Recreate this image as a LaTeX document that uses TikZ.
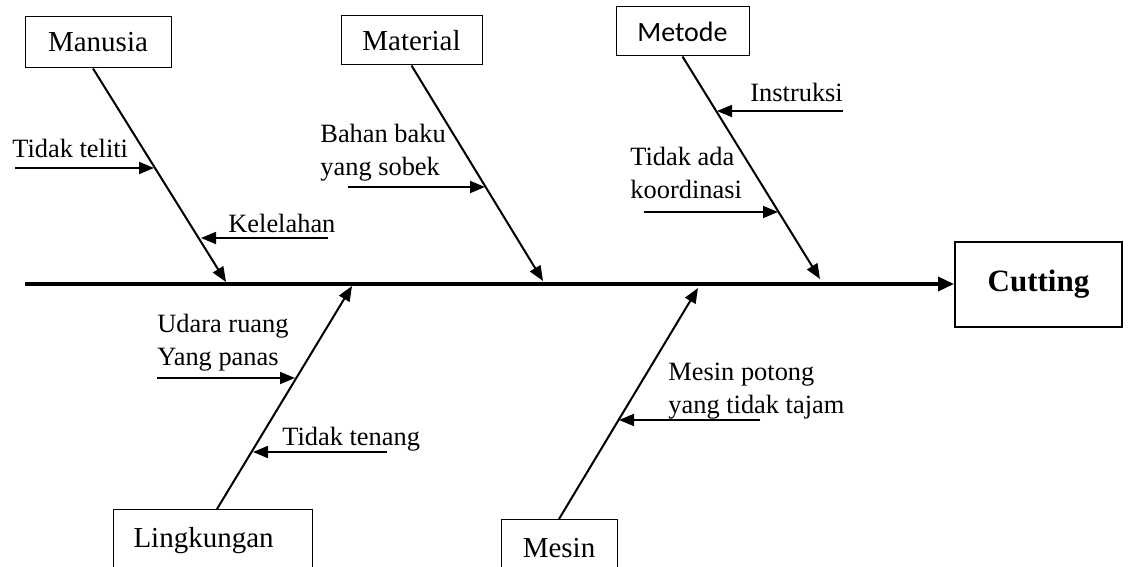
\documentclass[tikz,border=0pt]{standalone}
\usepackage{fontspec}
\setmainfont{Liberation Serif}
\newfontfamily\calibrifont{Carlito}
\usetikzlibrary{arrows.meta}
\begin{document}
\begin{tikzpicture}[x=0.5pt,y=-0.5pt,
  txt/.style={inner sep=0pt, anchor=base west, align=left, font=\fontsize{13.2pt}{16.5pt}\selectfont},
  catbox/.style={draw, line width=0.5pt, inner sep=0pt, font=\fontsize{14.5pt}{16.5pt}\selectfont},
  bone/.style={line width=1pt, -{Triangle[length=7.5pt,width=6pt]}},
  cause/.style={line width=0.9pt, -{Triangle[length=7.5pt,width=6pt]}},
  spine/.style={line width=1.75pt, -{Triangle[length=8pt,width=7pt]}}]
\useasboundingbox (0,0) rectangle (1134,567);
\clip (0,0) rectangle (1134,567);
% category boxes
\node[catbox, minimum width=73pt, minimum height=25.5pt] (man) at (98,42.5) {Manusia};
\node[catbox, minimum width=70.5pt, minimum height=24.5pt] (mat) at (411.5,40.5) {Material};
\node[catbox, minimum width=66.5pt, minimum height=24.5pt, font=\fontsize{14pt}{16pt}\calibrifont] (met) at (682.5,31.5) {Metode};
\node[catbox, anchor=north west, inner xsep=10pt, inner ysep=0pt, text width=79.5pt, align=left, text height=19pt, text depth=20pt] (ling) at (113,509) {Lingkungan};
\node[catbox, anchor=north, minimum width=58pt, text height=19pt, text depth=20pt] (mes) at (559,519) {Mesin};
\node[draw, line width=1pt, minimum width=83.5pt, minimum height=42.5pt, font=\bfseries\fontsize{15.5pt}{18pt}\selectfont] (cut) at (1038.5,284.5) {Cutting};
% spine
\coordinate (s0) at (25,284);
\draw[spine] (s0) -- (s0 -| cut.west);
% bones
\coordinate (tman) at (226,282);
\coordinate (tmat) at (543,281);
\coordinate (tmet) at (820,279);
\coordinate (tling) at (352,286);
\coordinate (tmes) at (698,288);
\draw[bone] ([xshift=-2.5pt]man.south) -- (tman);
\draw[bone] (mat.south) -- (tmat);
\draw[bone] (met.south) -- (tmet);
\draw[bone] ([xshift=2pt]ling.north) -- (tling);
\draw[bone] (mes.north) -- (tmes);
% causes (base anchor = baseline of the last line)
\node[txt] (c1) at (12,157) {Tidak teliti};
\node[txt] (c2) at (228,232) {Kelelahan};
\node[txt] (c3) at (320,175) {Bahan baku\\yang sobek};
\node[txt] (c4) at (750,102) {Instruksi};
\node[txt] (c5) at (630,198) {Tidak ada\\koordinasi};
\node[txt] (c6) at (157,365) {Udara ruang\\Yang panas};
\node[txt] (c7) at (282,445) {Tidak tenang};
\node[txt] (c8) at (668,413) {Mesin potong\\yang tidak tajam};
\coordinate (a1s) at (15,168);   \coordinate (a1e) at (154,168);
\coordinate (a2s) at (328,238);  \coordinate (a2e) at (201,238);
\coordinate (a3s) at (348,187);  \coordinate (a3e) at (485,187);
\coordinate (a4s) at (843,111);  \coordinate (a4e) at (717,111);
\coordinate (a5s) at (644,212);  \coordinate (a5e) at (778,212);
\coordinate (a6s) at (157,378);  \coordinate (a6e) at (295,378);
\coordinate (a7s) at (387,452);  \coordinate (a7e) at (253,452);
\coordinate (a8s) at (760,420);  \coordinate (a8e) at (619,420);
\foreach \i in {1,...,8} \draw[cause] (a\i s) -- (a\i e);
\end{tikzpicture}
\end{document}
